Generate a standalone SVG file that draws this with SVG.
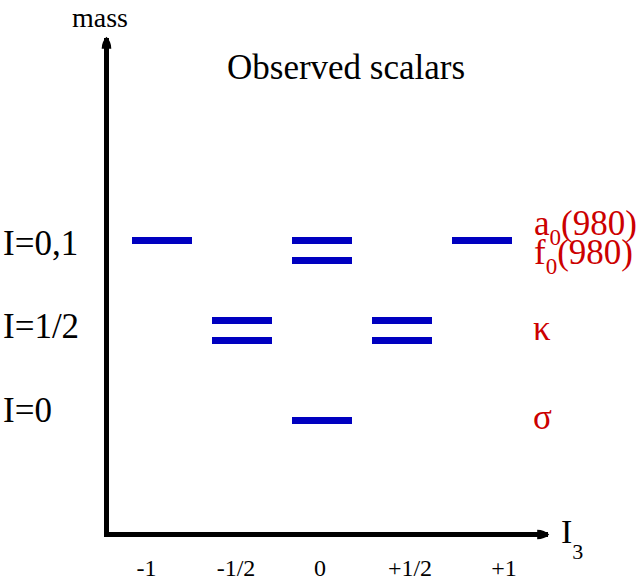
<svg xmlns="http://www.w3.org/2000/svg" width="642" height="583" viewBox="0 0 642 583">
<style>
.t{font-family:'Liberation Serif','DejaVu Serif','Times New Roman',serif;fill:#000}
.red{fill:#cc0000}
.bar{fill:#0000c0}
.ax{stroke:#000;stroke-width:5;fill:none}
.xl{font-size:24px;text-anchor:middle}
</style>
<defs>
<marker id="ah" viewBox="0 0 10 10" refX="9" refY="5" markerWidth="3" markerHeight="2.4" orient="auto" markerUnits="strokeWidth">
<path d="M0,1 Q6,1 10,5 Q6,9 0,9 Z" fill="#000"/>
</marker>
</defs>
<rect width="642" height="583" fill="#fff"/>
<g id="axes">
<path class="ax" d="M106.5,534.5 L106.5,38" marker-end="url(#ah)"/>
<path class="ax" d="M104,534.5 L548,534.5" marker-end="url(#ah)"/>
</g>
<text class="t" id="mass" x="72" y="27" font-size="28">mass</text>
<text class="t" id="title" x="227" y="79" font-size="35">Observed scalars</text>
<g id="i3"><text class="t" x="561" y="543" font-size="34">I<tspan font-size="22" dy="16">3</tspan></text></g>
<g id="ylabels">
<text class="t" x="3" y="255" font-size="35">I=0,1</text>
<text class="t" x="3" y="338" font-size="35">I=1/2</text>
<text class="t" x="3" y="422" font-size="35">I=0</text>
</g>
<g id="xlabels">
<text class="t xl" x="146.5" y="575.5">-1</text>
<text class="t xl" x="236" y="575.5">-1/2</text>
<text class="t xl" x="320" y="575.5">0</text>
<text class="t xl" x="410" y="575.5">+1/2</text>
<text class="t xl" x="504" y="575.5">+1</text>
</g>
<g id="levels">
<rect class="bar" x="132" y="237" width="60" height="7"/>
<rect class="bar" x="292" y="237" width="60" height="7"/>
<rect class="bar" x="292" y="257" width="60" height="7"/>
<rect class="bar" x="452" y="237" width="60" height="7"/>
<rect class="bar" x="212" y="317" width="60" height="7"/>
<rect class="bar" x="212" y="337" width="60" height="7"/>
<rect class="bar" x="372" y="317" width="60" height="7"/>
<rect class="bar" x="372" y="337" width="60" height="7"/>
<rect class="bar" x="292" y="417" width="60" height="7"/>
</g>
<g id="particles">
<text class="t red" x="534" y="235" font-size="35">a<tspan font-size="23" dy="10">0</tspan><tspan dy="-10">(980)</tspan></text>
<text class="t red" x="534" y="264" font-size="35">f<tspan font-size="23" dy="10">0</tspan><tspan dy="-10">(980)</tspan></text>
<text class="t red" x="533" y="340" font-size="35">κ</text>
<text class="t red" x="533" y="429" font-size="35">σ</text>
</g>
</svg>
